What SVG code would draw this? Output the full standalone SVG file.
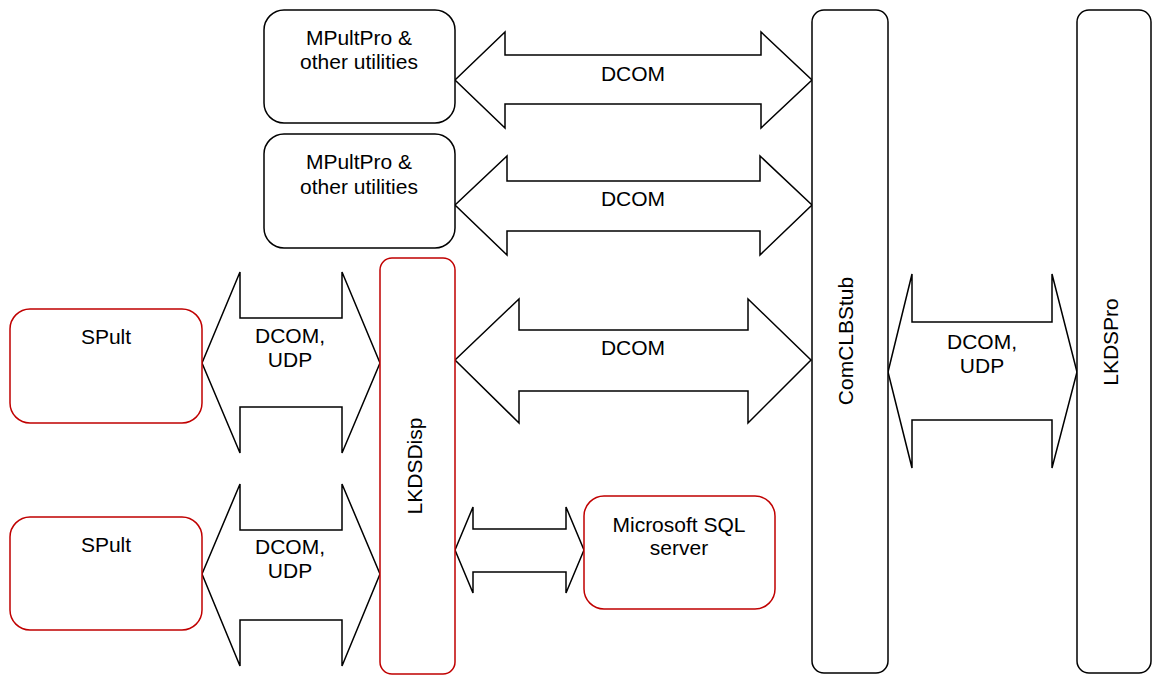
<svg xmlns="http://www.w3.org/2000/svg" width="1154" height="675" viewBox="0 0 1154 675">
<style>
.box{fill:#fff;stroke:#000;stroke-width:1.5}
.red{fill:#fff;stroke:#c00000;stroke-width:1.5}
.arr{fill:#fff;stroke:#000;stroke-width:1.5;stroke-linejoin:miter}
text{font-family:"Liberation Sans",Arial,sans-serif;font-size:21px;fill:#000;text-anchor:middle}
</style>
<rect width="1154" height="675" fill="#fff"/>
<g id="connectors">
<polygon class="arr" points="455,80 505,32 505,55 761,55 761,32 812,80 761,128 761,104 505,104 505,128"/>
<polygon class="arr" points="455,205 507,156 507,181 760,181 760,156 812,205 760,255 760,231 507,231 507,255"/>
<polygon class="arr" points="455,360 519,299 519,330 748,330 748,299 811,360 748,423 748,391 519,391 519,423"/>
<polygon class="arr" points="202,363 240,272 240,318 342,318 342,272 380,363 342,453 342,407 240,407 240,453"/>
<polygon class="arr" points="202,574 240,484 240,530 342,530 342,484 380,574 342,666 342,620 240,620 240,666"/>
<polygon class="arr" points="455,550 473,507 473,529 566,529 566,507 584,550 566,593 566,572 473,572 473,593"/>
<polygon class="arr" points="888,372 912,274 912,322 1052,322 1052,274 1077,372 1052,468 1052,420 912,420 912,468"/>
<text x="633" y="81">DCOM</text>
<text x="633" y="206">DCOM</text>
<text x="633" y="355">DCOM</text>
<text x="290" y="343">DCOM,</text>
<text x="290" y="367">UDP</text>
<text x="290" y="554">DCOM,</text>
<text x="290" y="578">UDP</text>
<text x="982" y="349">DCOM,</text>
<text x="982" y="373">UDP</text>
</g>
<g id="mpultpro1">
<rect class="box" x="264" y="10" width="191" height="113" rx="20"/>
<text x="359" y="45">MPultPro &amp;</text>
<text x="359" y="69">other utilities</text>
</g>
<g id="mpultpro2">
<rect class="box" x="264" y="134" width="191" height="114" rx="20"/>
<text x="359" y="169">MPultPro &amp;</text>
<text x="359" y="194">other utilities</text>
</g>
<g id="spult1">
<rect class="red" x="10" y="309" width="192" height="114" rx="20"/>
<text x="106" y="344">SPult</text>
</g>
<g id="spult2">
<rect class="red" x="10" y="517" width="192" height="113" rx="20"/>
<text x="106" y="552">SPult</text>
</g>
<g id="lkdsdisp">
<rect class="red" x="380" y="258" width="75" height="416" rx="12"/>
<text transform="translate(421.5,466) rotate(-90)">LKDSDisp</text>
</g>
<g id="sqlserver">
<rect class="red" x="584" y="496" width="191" height="113" rx="20"/>
<text x="679" y="532">Microsoft SQL</text>
<text x="679" y="555">server</text>
</g>
<g id="comclbstub">
<rect class="box" x="812" y="10" width="76" height="663" rx="12"/>
<text transform="translate(852.5,341) rotate(-90)">ComCLBStub</text>
</g>
<g id="lkdspro">
<rect class="box" x="1077" y="10" width="74" height="663" rx="12"/>
<text transform="translate(1117.5,342) rotate(-90)">LKDSPro</text>
</g>
</svg>
